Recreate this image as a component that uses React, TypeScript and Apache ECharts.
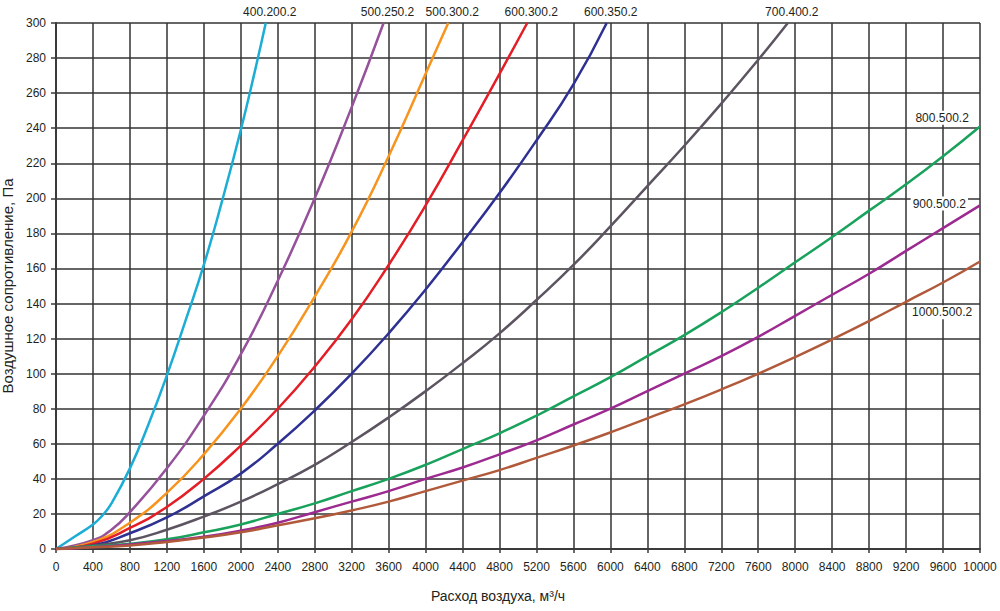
import React, { useEffect, useRef } from "react";
import * as echarts from "echarts";

const xAxisName = "Расход воздуха, м³/ч";
const yAxisName = "Воздушное сопротивление, Па";

const s400_200 = [[0,0],[200,7],[400,14],[500,19],[600,26],[800,46],[1000,71],[1200,99],[1400,130],[1600,162],[1800,199],[2000,239],[2150,272],[2270,300]];
const s500_250 = [[0,0],[400,5],[600,11],[800,21],[1200,46],[1600,76],[2000,111],[2400,153],[2800,200],[3200,252],[3545,300]];
const s500_300 = [[0,0],[400,4],[800,15],[1200,32],[1600,54],[2000,80],[2400,110],[2800,144],[3200,181],[3600,224],[4000,271],[4245,300]];
const s600_300 = [[0,0],[400,3],[800,12],[1200,24],[1600,40],[2000,59],[2400,80],[2800,104],[3200,131],[3600,162],[4000,196],[4400,233],[4800,271],[5100,300]];
const s600_350 = [[0,0],[400,2],[800,9],[1200,18],[1600,30],[2000,43],[2400,60],[2800,79],[3200,100],[3600,123],[4000,148],[4400,175],[4800,203],[5200,233],[5600,265],[5960,300]];
const s700_400 = [[0,0],[400,2],[800,5],[1200,11],[1600,18.5],[2000,27],[2400,37],[2800,48],[3200,61],[3600,75],[4000,90],[4400,106],[4800,123],[5200,142],[5600,162],[6000,184],[6400,207],[6800,230],[7200,254],[7600,279],[7920,300]];
const s800_500 = [[0,0],[400,1.5],[800,3],[1200,5.5],[1600,9.5],[2000,14],[2400,20],[2800,26],[3200,33],[3600,40],[4000,48],[4400,57],[4800,66],[5200,76],[5600,87],[6000,98],[6400,110],[6800,122],[7200,135],[7600,149],[8000,163.5],[8400,178],[8800,193],[9200,208],[9600,224],[10000,241]];
const s900_500 = [[0,0],[400,1],[800,2.5],[1200,4.5],[1600,7],[2000,10.5],[2400,15],[2800,21],[3200,27],[3600,33],[4000,40],[4400,46.5],[4800,54],[5200,62],[5600,71],[6000,80],[6400,90],[6800,100],[7200,110],[7600,121],[8000,133],[8400,145],[8800,157],[9200,170],[9600,183],[10000,196]];
const s1000_500 = [[0,0],[400,1],[800,2],[1200,4],[1600,6.5],[2000,9.5],[2400,13.5],[2800,17.5],[3200,22],[3600,27],[4000,33],[4400,39],[4800,45],[5200,52],[5600,59],[6000,66.5],[6400,74.5],[6800,82.5],[7200,91],[7600,100],[8000,109.5],[8400,119.5],[8800,130],[9200,141],[9600,152],[10000,164]];

const topSeries = [
  { name: "400.200.2", data: s400_200, color: "#1cadd6" },
  { name: "500.250.2", data: s500_250, color: "#95519a" },
  { name: "500.300.2", data: s500_300, color: "#f7941d" },
  { name: "600.300.2", data: s600_300, color: "#e31e26" },
  { name: "600.350.2", data: s600_350, color: "#2e3192" },
  { name: "700.400.2", data: s700_400, color: "#5d5461" },
];
const rightSeries = [
  { name: "800.500.2", data: s800_500, color: "#19a25c", labelAt: [9590, 246] },
  { name: "900.500.2", data: s900_500, color: "#9c2a90", labelAt: [9560, 197] },
  { name: "1000.500.2", data: s1000_500, color: "#b15a3b", labelAt: [9590, 135] },
];

const FONT = "Liberation Sans, Arial, sans-serif";
const TXT = "#231f20";

export default function App() {
  const ref = useRef<HTMLDivElement>(null);
  useEffect(() => {
    const chart = echarts.init(ref.current!, null, { renderer: "svg" });
    const series: any[] = [];
    topSeries.forEach((s) => {
      const d = s.data.map((p, i) =>
        i === s.data.length - 1
          ? {
              value: p,
              label: {
                show: true,
                position: "top",
                distance: 5,
                offset: [4, 0],
                formatter: s.name,
                color: TXT,
                fontSize: 12,
                fontFamily: FONT,
              },
            }
          : { value: p }
      );
      series.push({
        type: "line",
        name: s.name,
        data: d,
        smooth: 0.5,
        symbol: "circle",
        symbolSize: 0,
        showSymbol: true,
        showAllSymbol: true,
        lineStyle: { color: s.color, width: 2.5 },
        itemStyle: { color: s.color },
        emphasis: { disabled: true },
        z: 5,
      });
    });
    rightSeries.forEach((s) => {
      series.push({
        type: "line",
        name: s.name,
        data: s.data,
        smooth: 0.5,
        showSymbol: false,
        lineStyle: { color: s.color, width: 2.5 },
        itemStyle: { color: s.color },
        emphasis: { disabled: true },
        z: 5,
        markPoint: {
          silent: true,
          symbol: "circle",
          symbolSize: 0,
          data: [
            {
              coord: s.labelAt,
              label: {
                show: true,
                position: "inside",
                formatter: s.name,
                color: TXT,
                fontSize: 12,
                fontFamily: FONT,
                backgroundColor: "#ffffff",
                padding: [1, 2],
              },
            },
          ],
        },
      });
    });
    chart.setOption({
      animation: false,
      backgroundColor: "#ffffff",
      grid: { left: 56, right: 20, top: 23, bottom: 62, containLabel: false, outerBoundsMode: "none" },
      xAxis: {
        type: "value",
        min: 0,
        max: 10000,
        interval: 400,
        name: xAxisName,
        nameLocation: "middle",
        nameGap: 40,
        nameTextStyle: { fontSize: 14, color: TXT, fontFamily: FONT, padding: [0, 40, 0, 0] },
        axisLine: { show: true, onZero: false, lineStyle: { color: "#3a3a3a", width: 2 } },
        axisTick: { show: true, length: 4, lineStyle: { color: "#3a3a3a", width: 1.5 } },
        axisLabel: { fontSize: 12, color: TXT, fontFamily: FONT, margin: 12, formatter: (v: number) => String(v) },
        splitLine: { show: true, lineStyle: { color: "#333333", width: 1.5 } },
      },
      yAxis: {
        type: "value",
        min: 0,
        max: 300,
        interval: 20,
        name: yAxisName,
        nameLocation: "middle",
        nameGap: 37,
        nameTextStyle: { fontSize: 15, color: TXT, fontFamily: FONT },
        axisLine: { show: true, onZero: false, lineStyle: { color: "#3a3a3a", width: 2 } },
        axisTick: { show: true, length: 5, lineStyle: { color: "#3a3a3a", width: 1.5 } },
        axisLabel: { fontSize: 12, color: TXT, fontFamily: FONT, margin: 10, formatter: (v: number) => String(v) },
        splitLine: { show: true, lineStyle: { color: "#333333", width: 1.5 } },
      },
      series,
    });
    return () => chart.dispose();
  }, []);
  return (
    <div
      ref={ref}
      style={{ position: "fixed", left: 0, top: 0, width: "1000px", height: "611px", background: "#fff" }}
    />
  );
}
